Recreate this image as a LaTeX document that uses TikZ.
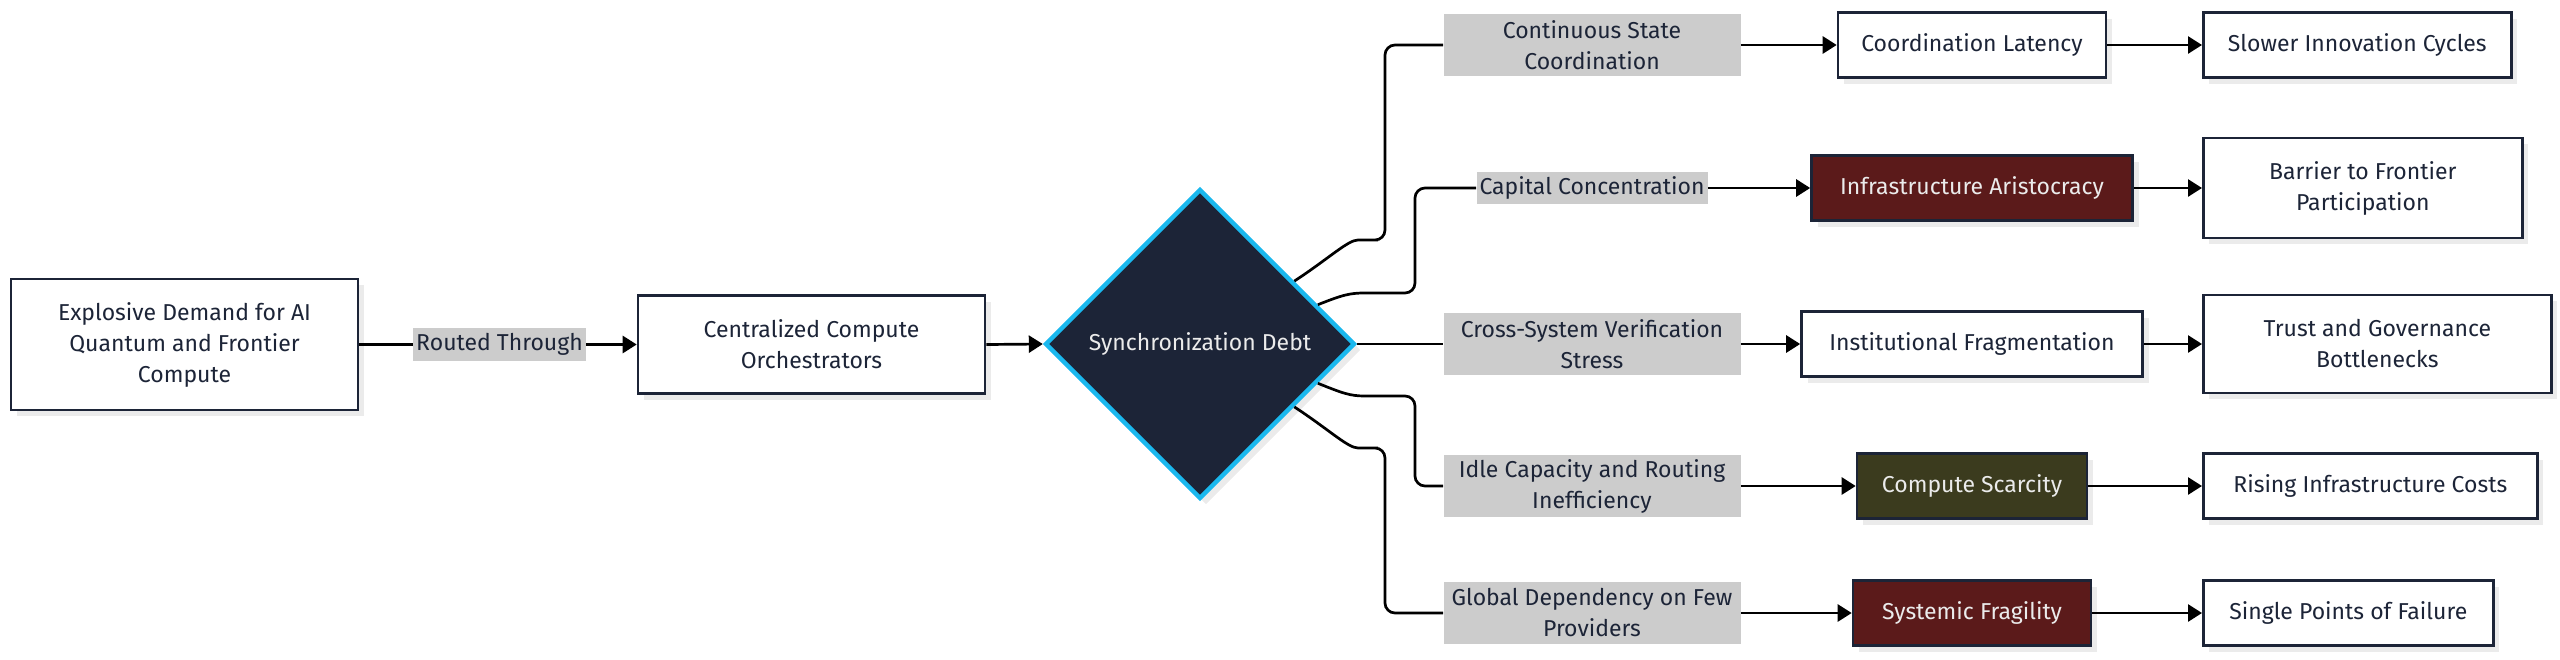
\documentclass[tikz,border=0pt]{standalone}
\usepackage{fontspec}
\setmainfont{Fira Sans}
\usetikzlibrary{arrows.meta,shapes.geometric,shadows,calc}

\definecolor{navy}{HTML}{1C2437}
\definecolor{rimcyan}{HTML}{1AB8EE}
\definecolor{aristored}{HTML}{5B1A1A}
\definecolor{scarceolive}{HTML}{3B3B1E}
\definecolor{lblgray}{HTML}{CCCCCC}

\begin{document}
\begin{tikzpicture}[x=0.5pt,y=-0.5pt,
  font=\fontsize{11.5}{15.5}\selectfont,
  box/.style={draw=navy,line width=1.3pt,fill=white,text=navy,align=center,
    minimum height=32.5pt,inner sep=2pt,
    drop shadow={shadow xshift=3pt,shadow yshift=-3pt,fill=black!8,opacity=1}},
  hotbox/.style={box,fill=aristored,text=white!92!black},
  scarcebox/.style={box,fill=scarceolive,text=white!92!black},
  edgelbl/.style={fill=lblgray,text=navy,align=center,inner sep=1.5pt},
  link/.style={line width=1.35pt,rounded corners=5pt},
  flow/.style={link,-{Triangle[length=7pt,width=8.5pt]}}]
\useasboundingbox (0,0) rectangle (2560,659);

% source and orchestrator
\node[box,minimum width=173.5pt,minimum height=65.5pt] (demand) at (184.5,344.5)
  {Explosive Demand for AI\\Quantum and Frontier\\Compute};
\node[edgelbl,minimum height=16.5pt] (routed) at (499.5,344.5) {Routed Through};
\node[box,minimum width=173.5pt,minimum height=49pt] (orch) at (811.5,344.5)
  {Centralized Compute\\Orchestrators};
\node[diamond,draw=rimcyan,line width=2.2pt,fill=navy,text=white!92!black,
  minimum width=155pt,minimum height=155pt,inner sep=0pt,
  drop shadow={shadow xshift=3pt,shadow yshift=-3pt,fill=black!8,opacity=1}]
  (sync) at (1200,344) {Synchronization Debt};

% edge labels
\node[edgelbl,minimum width=148.5pt,minimum height=31pt] (lstate) at (1592,45)
  {Continuous State\\Coordination};
\node[edgelbl,minimum height=16pt] (lcap) at (1592,188) {Capital Concentration};
\node[edgelbl,minimum width=148.5pt,minimum height=31pt] (lverif) at (1592,344)
  {Cross-System Verification\\Stress};
\node[edgelbl,minimum width=148.5pt,minimum height=31pt] (lidle) at (1592,486)
  {Idle Capacity and Routing\\Inefficiency};
\node[edgelbl,minimum width=148.5pt,minimum height=31pt] (lglobal) at (1592,613)
  {Global Dependency on Few\\Providers};

% first effects
\node[box,minimum width=134pt] (latency) at (1972,45) {Coordination Latency};
\node[hotbox,minimum width=160.5pt] (aristo) at (1972,188) {Infrastructure Aristocracy};
\node[box,minimum width=170.5pt] (frag) at (1972,344) {Institutional Fragmentation};
\node[scarcebox,minimum width=115pt] (scarce) at (1972,486) {Compute Scarcity};
\node[hotbox,minimum width=119pt] (fragile) at (1972,613) {Systemic Fragility};

% second effects
\node[box,anchor=west,minimum width=154pt] (slower) at (2202,45) {Slower Innovation Cycles};
\node[box,anchor=west,minimum width=159.5pt,minimum height=50pt] (barrier) at (2202,188)
  {Barrier to Frontier\\Participation};
\node[box,anchor=west,minimum width=174pt,minimum height=49pt] (trust) at (2202,344)
  {Trust and Governance\\Bottlenecks};
\node[box,anchor=west,minimum width=167pt] (rising) at (2202,486) {Rising Infrastructure Costs};
\node[box,anchor=west,minimum width=145pt] (spof) at (2202,613) {Single Points of Failure};

% exits on the diamond
\coordinate (up1) at ($(sync.north)!0.6!(sync.east)$);
\coordinate (up2) at ($(sync.north)!0.75!(sync.east)$);
\coordinate (dn2) at ($(sync.south)!0.75!(sync.east)$);
\coordinate (dn1) at ($(sync.south)!0.6!(sync.east)$);

\draw[link] (demand.east) -- (routed.west);
\draw[flow] (routed.east) -- (orch.west);
\draw[flow] (orch.east) -- (sync.west);

\draw[link] (up1) .. controls +(35,-23) and +(-20,0) .. (1368,240) -- (1385,240) -- (1385,45) -- (lstate.west);
\draw[link] (up2) .. controls +(25,-10) and +(-25,0) .. (1375,293) -- (1415,293) -- (1415,188) -- (lcap.west);
\draw[link] (sync.east) -- (lverif.west);
\draw[link] (dn2) .. controls +(25,10) and +(-25,0) .. (1375,396) -- (1415,396) -- (1415,486) -- (lidle.west);
\draw[link] (dn1) .. controls +(35,23) and +(-20,0) .. (1368,448) -- (1385,448) -- (1385,613) -- (lglobal.west);

\draw[flow] (lstate.east) -- (latency.west);
\draw[flow] (lcap.east) -- (aristo.west);
\draw[flow] (lverif.east) -- (frag.west);
\draw[flow] (lidle.east) -- (scarce.west);
\draw[flow] (lglobal.east) -- (fragile.west);

\draw[flow] (latency.east) -- (slower.west);
\draw[flow] (aristo.east) -- (barrier.west);
\draw[flow] (frag.east) -- (trust.west);
\draw[flow] (scarce.east) -- (rising.west);
\draw[flow] (fragile.east) -- (spof.west);
\end{tikzpicture}
\end{document}
